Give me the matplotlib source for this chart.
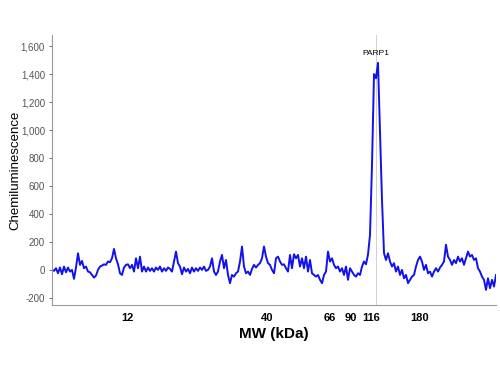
import matplotlib.pyplot as plt
import numpy as np
from matplotlib.ticker import FuncFormatter

plt.rcParams['font.family'] = ['Liberation Sans', 'DejaVu Sans']

# electropherogram trace, sampled along the capillary (uniform steps)
signal = [
    0, -7, 12, -24, 17, -31, 24, -17, 17, -12, 0, -64, 17, 119, 36, 64, 12, 24, -12, -17,
    -36, -55, -40, 0, 24, 31, 40, 36, 60, 55, 83, 150, 83, 40, -24, -36, 17, 36, 40,
    12, 36, -12, 83, 12, 95, -12, 24, -12, 17, -7, 12, -12, 17, 0, 24, -12, 12, -7, 17,
    7, -12, 60, 131, 48, 24, -31, 17, -12, 7, -24, 17, -12, 12, -7, 17, 0, 24, -7,
    0, 24, 83, -12, -36, -12, 60, 107, 12, 71, -36, -95, -36, -48, -24, -12, 60, 167, 24,
    -24, -12, -36, 7, 36, 17, 36, 48, 83, 167, 95, 48, 36, 0, -24, 83, 95, 60,
    36, 40, 12, -12, 107, 12, 112, 83, 107, 24, 83, 12, 95, -12, 71, -24, -36, -48, -36,
    -71, -95, -36, -12, 131, 60, 83, 36, 12, 24, -12, 12, -36, 24, -71, 12, -12, -36,
    -48, -24, -36, 24, 60, 40, 110, 250, 750, 1400, 1370, 1480, 980, 500, 120, 71, 119,
    60, 24, 48, -12, 24, -36, 0, -60, -36, -95, -71, -48, -36, 24, 71, 95, 60, 0, 36, -24,
    -12, -48, -12, 12, -12, 17, 36, 60, 180, 95, 71, 36, 71, 48, 95, 60, 83, 36, 83,
    131, 95, 107, 71, 83, 12, -12, -48, -71, -143, -60, -131, -71, -119, -36,
]

mw_labels = ['12', '40', '66', '90', '116', '180']
mw_pos = [37.5, 107.5, 139, 149.5, 159.5, 184]
peak_name = 'PARP1'
peak_marker = 162

pos = np.arange(len(signal))
peak_idx = int(np.argmax(signal))

fig = plt.figure(figsize=(5, 3.75), dpi=100)
ax = fig.add_axes([0.104, 0.187, 0.888, 0.72])

ax.axvline(peak_marker, color='#d0d0d0', lw=0.7, zorder=1)
ax.plot(pos, signal, color='#1212ea', lw=1.4, zorder=2)
ax.text(peak_idx - 1, max(signal) + 40, peak_name, ha='center', va='bottom', fontsize=6)

ax.set_xlim(0, len(signal) - 1)
ax.set_ylim(-250, 1680)
ax.set_yticks(np.arange(-200, 1601, 200))
ax.yaxis.set_major_formatter(FuncFormatter(lambda v, _: f'{int(v):,}'))
ax.set_xticks(mw_pos)
ax.set_xticklabels(mw_labels, fontweight='bold', fontsize=8)

ax.tick_params(axis='y', labelsize=7, colors='#555555', length=2, width=0.6, pad=3)
ax.tick_params(axis='x', length=0, pad=6, labelcolor='black')

for s in ['top', 'right']:
    ax.spines[s].set_visible(False)
for s in ['left', 'bottom']:
    ax.spines[s].set_color('#999999')
    ax.spines[s].set_linewidth(0.8)

ax.set_ylabel('Chemiluminescence', fontsize=9.5)
ax.yaxis.set_label_coords(-0.07, 0.5)
ax.set_xlabel('MW (kDa)', fontsize=11, fontweight='bold', labelpad=3)

fig.savefig('out.png', dpi=100)
